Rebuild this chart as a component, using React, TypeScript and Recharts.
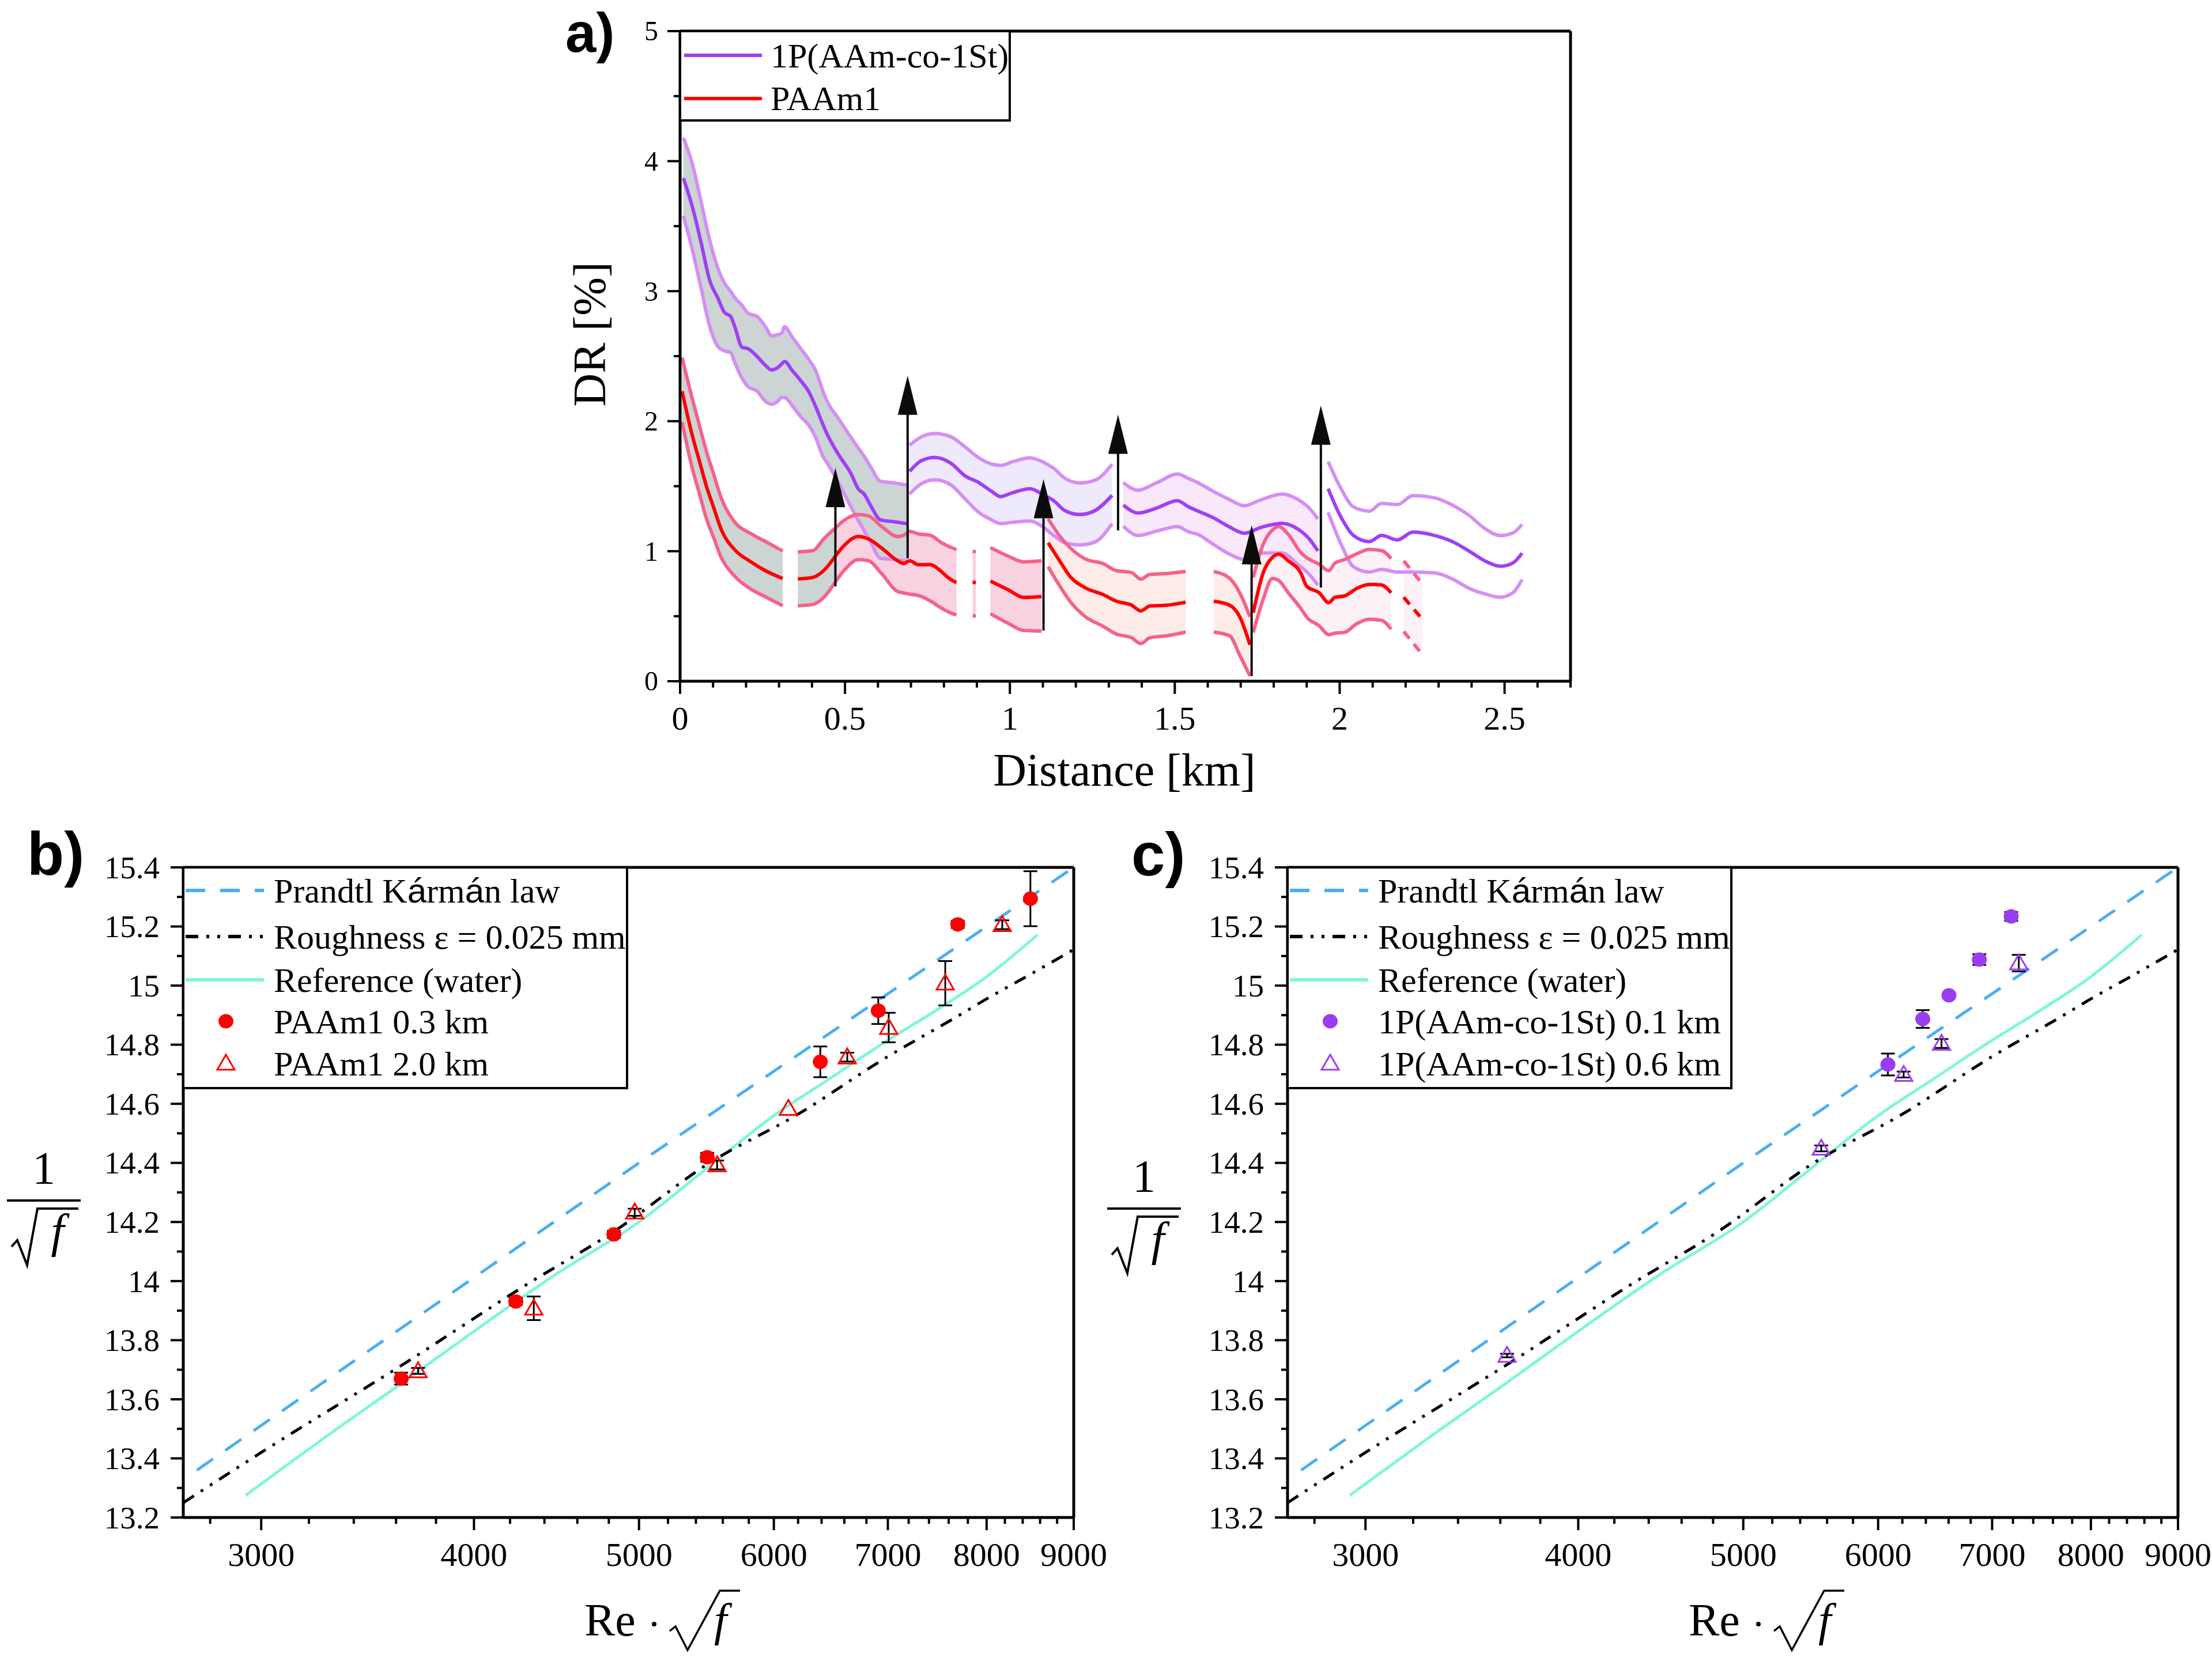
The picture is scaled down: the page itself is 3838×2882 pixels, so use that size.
import React from "react";
import {
  ComposedChart,
  Line,
  Area,
  Scatter,
  XAxis,
  YAxis,
  ReferenceLine,
  ReferenceDot,
  ErrorBar,
} from "recharts";

const SERIF = "'Liberation Serif', 'Times New Roman', serif";
const SANS = "'Liberation Sans', Arial, sans-serif";

// ---------- a) DR along the loop, rows are [km, lower, mean, upper] ----------
const copoSeg1 = [
  [0.01, 3.58, 3.87, 4.18], [0.037, 3.32, 3.65, 3.98], [0.064, 3.02, 3.37, 3.685],
  [0.09, 2.726, 3.08, 3.39], [0.114, 2.577, 2.95, 3.18], [0.135, 2.54, 2.835, 3.06],
  [0.153, 2.528, 2.806, 3.0], [0.166, 2.45, 2.726, 2.95], [0.188, 2.33, 2.568, 2.89],
  [0.206, 2.265, 2.558, 2.83], [0.233, 2.232, 2.499, 2.806], [0.259, 2.152, 2.429, 2.726],
  [0.277, 2.13, 2.394, 2.657], [0.295, 2.15, 2.41, 2.665], [0.308, 2.182, 2.44, 2.677],
  [0.317, 2.182, 2.459, 2.726], [0.34, 2.12, 2.39, 2.647], [0.366, 2.034, 2.311, 2.558],
  [0.39, 1.97, 2.228, 2.475], [0.411, 1.875, 2.113, 2.39], [0.433, 1.73, 1.975, 2.232],
  [0.446, 1.678, 1.9, 2.152], [0.482, 1.519, 1.737, 2.014], [0.518, 1.341, 1.598, 1.875],
  [0.54, 1.24, 1.48, 1.795], [0.558, 1.16, 1.44, 1.73], [0.58, 1.06, 1.341, 1.64],
  [0.607, 0.945, 1.242, 1.539], [0.651, 0.937, 1.226, 1.525], [0.687, 0.925, 1.212, 1.509],
];
const copoSeg2 = [
  [0.696, 1.44, 1.614, 1.816], [0.732, 1.52, 1.697, 1.88], [0.772, 1.549, 1.721, 1.905],
  [0.821, 1.51, 1.677, 1.88], [0.865, 1.4, 1.578, 1.8], [0.905, 1.3, 1.529, 1.72],
  [0.945, 1.24, 1.46, 1.67], [0.972, 1.212, 1.42, 1.66], [1.008, 1.222, 1.45, 1.688],
  [1.061, 1.232, 1.48, 1.718], [1.097, 1.192, 1.44, 1.69], [1.132, 1.123, 1.39, 1.639],
  [1.168, 1.063, 1.311, 1.559], [1.212, 1.048, 1.282, 1.525], [1.257, 1.07, 1.311, 1.545],
  [1.31, 1.212, 1.43, 1.668],
];
const copoSeg3 = [
  [1.344, 1.192, 1.355, 1.528], [1.389, 1.121, 1.294, 1.469], [1.446, 1.155, 1.333, 1.528],
  [1.508, 1.189, 1.389, 1.593], [1.541, 1.15, 1.342, 1.56], [1.569, 1.13, 1.31, 1.528],
  [1.617, 1.053, 1.257, 1.46], [1.664, 0.98, 1.189, 1.4], [1.711, 0.935, 1.138, 1.35],
  [1.759, 0.986, 1.181, 1.393], [1.825, 0.986, 1.215, 1.44], [1.872, 0.901, 1.172, 1.4],
  [1.91, 0.816, 1.087, 1.325], [1.934, 0.739, 1.002, 1.248],
];
const copoSeg4 = [
  [1.965, 1.299, 1.481, 1.689], [2.005, 1.05, 1.257, 1.477], [2.042, 0.88, 1.121, 1.34],
  [2.09, 0.84, 1.074, 1.308], [2.127, 0.86, 1.121, 1.367], [2.175, 0.84, 1.087, 1.359],
  [2.222, 0.84, 1.147, 1.427], [2.288, 0.833, 1.121, 1.41], [2.345, 0.782, 1.07, 1.35],
  [2.393, 0.714, 1.0, 1.274], [2.44, 0.672, 0.926, 1.175], [2.487, 0.646, 0.884, 1.12],
  [2.525, 0.68, 0.909, 1.14], [2.553, 0.782, 0.985, 1.206],
];
const paamSeg1 = [
  [0.006, 1.994, 2.23, 2.489], [0.037, 1.638, 1.89, 2.172], [0.059, 1.44, 1.69, 1.964],
  [0.081, 1.242, 1.49, 1.757], [0.1, 1.117, 1.35, 1.606], [0.126, 0.945, 1.16, 1.401],
  [0.166, 0.807, 1.01, 1.223], [0.215, 0.708, 0.918, 1.134], [0.259, 0.649, 0.85, 1.074],
  [0.311, 0.58, 0.79, 1.001],
];
const paamSeg2 = [
  [0.357, 0.58, 0.787, 0.995], [0.402, 0.59, 0.798, 1.004], [0.4375, 0.65, 0.856, 1.1],
  [0.471, 0.765, 0.963, 1.178],
];
const paamSeg3 = [
  [0.471, 0.765, 0.963, 1.178], [0.5, 0.86, 1.05, 1.242], [0.54, 0.935, 1.113, 1.282],
  [0.571, 0.927, 1.095, 1.272], [0.611, 0.828, 1.024, 1.19], [0.66, 0.689, 0.926, 1.113],
  [0.678, 0.679, 0.905, 1.123], [0.696, 0.67, 0.926, 1.153], [0.723, 0.659, 0.896, 1.133],
  [0.758, 0.619, 0.896, 1.123], [0.794, 0.56, 0.84, 1.063], [0.812, 0.535, 0.798, 1.04],
  [0.838, 0.51, 0.758, 1.013],
];
const paamBit = [[0.887, 0.505, 0.76, 1.0], [0.897, 0.5, 0.76, 0.995]];
const paamSeg4 = [
  [0.941, 0.519, 0.77, 1.028], [0.995, 0.445, 0.703, 0.962], [1.042, 0.39, 0.644, 0.918],
  [1.096, 0.386, 0.652, 0.926],
];
const paamSeg5 = [
  [1.116, 0.881, 1.065, 1.25], [1.151, 0.733, 0.926, 1.117], [1.182, 0.616, 0.807, 1.028],
  [1.229, 0.496, 0.718, 0.94], [1.283, 0.422, 0.666, 0.904], [1.322, 0.363, 0.616, 0.851],
  [1.369, 0.334, 0.585, 0.836], [1.397, 0.289, 0.541, 0.785], [1.424, 0.334, 0.578, 0.821],
  [1.478, 0.35, 0.585, 0.829], [1.533, 0.378, 0.607, 0.844],
];
const paamSeg6 = [
  [1.618, 0.378, 0.615, 0.844], [1.666, 0.35, 0.585, 0.792], [1.697, 0.2, 0.496, 0.68],
  [1.728, 0.04, 0.28, 0.496],
];
const paamSeg7 = [
  [1.738, 0.375, 0.527, 0.799], [1.768, 0.629, 0.833, 1.053], [1.796, 0.79, 0.952, 1.163],
  [1.815, 0.775, 0.977, 1.189], [1.844, 0.68, 0.926, 1.13], [1.882, 0.56, 0.833, 0.99],
  [1.9, 0.493, 0.731, 0.95], [1.938, 0.426, 0.68, 0.9], [1.967, 0.358, 0.604, 0.85],
  [1.986, 0.37, 0.646, 0.909], [2.014, 0.375, 0.655, 0.935], [2.052, 0.443, 0.714, 0.98],
  [2.09, 0.477, 0.745, 1.014], [2.127, 0.468, 0.74, 1.005], [2.156, 0.4, 0.68, 0.943],
];
const paamTail = [[2.194, 0.383, 0.646, 0.926], [2.251, 0.205, 0.476, 0.748]];

// polymer injections: [km, foot, tip]
const injections = [
  [0.471, 0.73, 1.64],
  [0.69, 0.945, 2.35],
  [1.102, 0.39, 1.555],
  [1.328, 1.16, 2.05],
  [1.733, 0.04, 1.2],
  [1.943, 0.72, 2.12],
];

const distMajor = [0, 0.5, 1, 1.5, 2, 2.5];
const distMinor = [0.1, 0.2, 0.3, 0.4, 0.6, 0.7, 0.8, 0.9, 1.1, 1.2, 1.3, 1.4, 1.6, 1.7, 1.8, 1.9, 2.1, 2.2, 2.3, 2.4, 2.6, 2.7];
const drMajor = [0, 1, 2, 3, 4, 5];
const drMinor = [0.5, 1.5, 2.5, 3.5, 4.5];

// ---------- b), c) friction factor ----------
const prandtl = [[2750, 13.36], [5000, 14.4], [9000, 15.4]];
const roughness = [
  [2700, 13.25], [3000, 13.42], [3650, 13.725], [4300, 13.99], [4840, 14.17], [5500, 14.4],
  [6200, 14.565], [7000, 14.76], [7660, 14.89], [8000, 14.955], [8500, 15.04], [9000, 15.122],
];
const water = [
  [2937, 13.275], [3250, 13.46], [3660, 13.67], [4000, 13.83], [4460, 14.02], [5000, 14.2],
  [5450, 14.37], [6000, 14.56], [6490, 14.69], [7000, 14.815], [7490, 14.92], [8000, 15.03],
  [8570, 15.172],
];
// [Re*sqrt(f), 1/sqrt(f), error]
const paam03 = [
  [3625, 13.67, 0.02], [4233, 13.931, 0.012], [4833, 14.158, 0.012], [5483, 14.419, 0.015],
  [6389, 14.742, 0.052], [6910, 14.915, 0.045], [7694, 15.207, 0.012], [8488, 15.294, 0.093],
];
const paam20 = [
  [3709, 13.696, 0.01], [4337, 13.908, 0.04], [4971, 14.233, 0.012], [5557, 14.393, 0.015],
  [6119, 14.584, 0], [6626, 14.758, 0.015], [7008, 14.858, 0.05], [7565, 15.008, 0.075],
  [8171, 15.206, 0.015],
];
const copo01 = [
  [6080, 14.733, 0.037], [6373, 14.887, 0.03], [6603, 14.967, 0], [6880, 15.088, 0.018],
  [7183, 15.234, 0.015],
];
const copo06 = [
  [3633, 13.748, 0.006], [5556, 14.449, 0.01], [6211, 14.699, 0.01], [6537, 14.804, 0.015],
  [7257, 15.076, 0.028],
];

const reMajor = [3000, 4000, 5000, 6000, 7000, 8000, 9000];
const reMinor = [2800, 3200, 3400, 3600, 3800, 4200, 4400, 4600, 4800, 5200, 5400, 5600, 5800, 6200, 6400, 6600, 6800, 7200, 7400, 7600, 7800, 8200, 8400, 8600, 8800];
const fMajor = [13.2, 13.4, 13.6, 13.8, 14, 14.2, 14.4, 14.6, 14.8, 15, 15.2, 15.4];
const fMinor = [13.3, 13.5, 13.7, 13.9, 14.1, 14.3, 14.5, 14.7, 14.9, 15.1, 15.3];

// ---------- colours ----------
const P_MAIN = "#a03ff5";
const P_EDGE = "#d48ff4";
const R_MAIN = "#ff0000";
const R_EDGE = "#f5628a";
const GRAY = "#ccd4d4";
const PINK = "#f8d2e1";
const PEACH = "#fdece7";
const LAV = "#eee9fb";
const PLAV = "#f9e7fa";
const FAINT = "#fdf1f8";
const BLUE = "#4aaef2";
const CYAN = "#7ff5dc";
const PURPLE = "#9a3df0";

const toRows = (t: number[][]) => t.map(([x, lo, mid, hi]) => ({ x, lo, mid, hi }));
const toPts = (t: number[][]) => t.map(([x, y, err]) => ({ x, y, err }));

const bands = [
  { rows: toRows(paamSeg1), fill: GRAY, edge: R_EDGE, main: R_MAIN },
  { rows: toRows(paamSeg2), fill: GRAY, edge: R_EDGE, main: R_MAIN },
  { rows: toRows(paamSeg3), fill: PINK, edge: R_EDGE, main: R_MAIN },
  { rows: toRows(paamBit), fill: PINK, edge: R_EDGE, main: R_MAIN },
  { rows: toRows(paamSeg4), fill: PINK, edge: R_EDGE, main: R_MAIN },
  { rows: toRows(paamSeg5), fill: PEACH, edge: R_EDGE, main: R_MAIN },
  { rows: toRows(paamSeg6), fill: PEACH, edge: R_EDGE, main: R_MAIN },
  { rows: toRows(paamSeg7), fill: FAINT, edge: R_EDGE, main: R_MAIN },
  { rows: toRows(paamTail), fill: FAINT, edge: R_EDGE, main: R_MAIN, dash: "16 12" },
  { rows: toRows(copoSeg1), fill: GRAY, edge: P_EDGE, main: P_MAIN },
  { rows: toRows(copoSeg2), fill: LAV, edge: P_EDGE, main: P_MAIN },
  { rows: toRows(copoSeg3), fill: PLAV, edge: P_EDGE, main: P_MAIN },
  { rows: toRows(copoSeg4), fill: "", edge: P_EDGE, main: P_MAIN },
];

const AXIS = { stroke: "#000", strokeWidth: 5 };
const near = (v: number, list: number[]) => list.some((m) => Math.abs(m - v) < 1e-6);

const bottomTicks = (majors: number[], fontSize: number) => (p: any) => {
  const v = p.payload.value;
  const big = near(v, majors);
  return (
    <g>
      <line x1={p.x} y1={p.y} x2={p.x} y2={p.y + (big ? 22 : 11)} stroke="#000" strokeWidth={4} />
      {big && (
        <text x={p.x} y={p.y + 84} textAnchor="middle" fontFamily={SERIF} fontSize={fontSize} fill="#000">
          {String(v)}
        </text>
      )}
    </g>
  );
};

const leftTicks = (majors: number[], fontSize: number, gap: number) => (p: any) => {
  const v = p.payload.value;
  const big = near(v, majors);
  return (
    <g>
      <line x1={p.x} y1={p.y} x2={p.x - (big ? 22 : 11)} y2={p.y} stroke="#000" strokeWidth={4} />
      {big && (
        <text x={p.x - gap} y={p.y} dy="0.34em" textAnchor="end" fontFamily={SERIF} fontSize={fontSize} fill="#000">
          {String(v)}
        </text>
      )}
    </g>
  );
};

const arrowHead = (p: any) => (
  <polygon
    points={`${p.cx},${p.cy} ${p.cx - 17},${p.cy + 68} ${p.cx + 17},${p.cy + 68}`}
    fill="#0b0b0b"
  />
);

function DragReduction() {
  return (
    <ComposedChart width={1900} height={1400} margin={{ top: 54, right: 75, bottom: 158, left: 180 }}>
      <XAxis
        dataKey="x"
        type="number"
        domain={[0, 2.7]}
        allowDataOverflow
        ticks={[...distMajor, ...distMinor]}
        interval={0}
        tickSize={0}
        tickMargin={0}
        tickLine={false}
        axisLine={AXIS}
        tick={bottomTicks(distMajor, 58)}
        height={60}
      />
      <YAxis
        type="number"
        domain={[0, 5]}
        allowDataOverflow
        ticks={[...drMajor, ...drMinor]}
        interval={0}
        tickSize={0}
        tickMargin={0}
        tickLine={false}
        axisLine={AXIS}
        tick={leftTicks(drMajor, 48, 38)}
        width={100}
      />
      <ReferenceLine y={5} stroke="#000" strokeWidth={5} ifOverflow="visible" />
      <ReferenceLine x={2.7} stroke="#000" strokeWidth={5} ifOverflow="visible" />
      {bands.map((b, i) =>
        b.fill ? (
          <Area
            key={`f${i}`}
            data={b.rows}
            dataKey={(d: any) => [d.lo, d.hi]}
            type="monotone"
            stroke="none"
            fill={b.fill}
            fillOpacity={1}
            className="mult"
            dot={false}
            activeDot={false}
            isAnimationActive={false}
          />
        ) : null
      )}
      {bands.map((b, i) => (
        <Line key={`lo${i}`} data={b.rows} dataKey="lo" type="monotone" stroke={b.edge} strokeWidth={6}
          strokeDasharray={b.dash} dot={false} activeDot={false} isAnimationActive={false} />
      ))}
      {bands.map((b, i) => (
        <Line key={`hi${i}`} data={b.rows} dataKey="hi" type="monotone" stroke={b.edge} strokeWidth={6}
          strokeDasharray={b.dash} dot={false} activeDot={false} isAnimationActive={false} />
      ))}
      {bands.map((b, i) => (
        <Line key={`m${i}`} data={b.rows} dataKey="mid" type="monotone" stroke={b.main} strokeWidth={6}
          strokeDasharray={b.dash} dot={false} activeDot={false} isAnimationActive={false} />
      ))}
      {injections.map(([x, foot, tip], i) => (
        <ReferenceLine
          key={`s${i}`}
          segment={[{ x, y: foot }, { x, y: tip - 0.2 }]}
          stroke="#0b0b0b"
          strokeWidth={4}
          ifOverflow="visible"
        />
      ))}
      {injections.map(([x, , tip], i) => (
        <ReferenceDot key={`h${i}`} x={x} y={tip} r={1} shape={arrowHead} ifOverflow="visible" />
      ))}
    </ComposedChart>
  );
}

const dotShape = (color: string) => (p: any) => (
  <ellipse cx={p.cx} cy={p.cy} rx={13} ry={12.5} fill={color} />
);
const triShape = (color: string) => (p: any) => (
  <polygon
    points={`${p.cx},${p.cy - 15} ${p.cx - 15},${p.cy + 11} ${p.cx + 15},${p.cy + 11}`}
    fill="none"
    stroke={color}
    strokeWidth={3}
  />
);
const noShape = () => <g />;

function Friction({ solid, hollow, color }: { solid: number[][]; hollow: number[][]; color: string }) {
  const s = toPts(solid);
  const h = toPts(hollow);
  return (
    <ComposedChart width={1850} height={1400} margin={{ top: 105, right: 87, bottom: 107, left: 118 }}>
      <XAxis
        dataKey="x"
        type="number"
        scale="log"
        domain={[2700, 9000]}
        allowDataOverflow
        ticks={[...reMajor, ...reMinor]}
        interval={0}
        tickSize={0}
        tickMargin={0}
        tickLine={false}
        axisLine={AXIS}
        tick={bottomTicks(reMajor, 58)}
        height={60}
      />
      <YAxis
        dataKey="y"
        type="number"
        domain={[13.2, 15.4]}
        allowDataOverflow
        ticks={[...fMajor, ...fMinor]}
        interval={0}
        tickSize={0}
        tickMargin={0}
        tickLine={false}
        axisLine={AXIS}
        tick={leftTicks(fMajor, 55, 41)}
        width={100}
      />
      <ReferenceLine y={15.4} stroke="#000" strokeWidth={5} ifOverflow="visible" />
      <ReferenceLine x={9000} stroke="#000" strokeWidth={5} ifOverflow="visible" />
      <Line data={toPts(water)} dataKey="y" type="monotone" stroke={CYAN} strokeWidth={5}
        dot={false} activeDot={false} isAnimationActive={false} />
      <Line data={toPts(roughness)} dataKey="y" type="monotone" stroke="#000" strokeWidth={5}
        strokeDasharray="22 14 5 14 5 14" dot={false} activeDot={false} isAnimationActive={false} />
      <Line data={toPts(prandtl)} dataKey="y" type="linear" stroke={BLUE} strokeWidth={5}
        strokeDasharray="34 26" dot={false} activeDot={false} isAnimationActive={false} />
      <Scatter data={s} dataKey="y" shape={dotShape(color)} isAnimationActive={false} />
      <Scatter data={h} dataKey="y" shape={triShape(color)} isAnimationActive={false} />
      <Scatter data={s.filter((d) => d.err > 0)} dataKey="y" shape={noShape} isAnimationActive={false}>
        <ErrorBar dataKey="err" direction="y" width={12} stroke="#000" strokeWidth={3} />
      </Scatter>
      <Scatter data={h.filter((d) => d.err > 0)} dataKey="y" shape={noShape} isAnimationActive={false}>
        <ErrorBar dataKey="err" direction="y" width={12} stroke="#000" strokeWidth={3} />
      </Scatter>
    </ComposedChart>
  );
}

const ROWS = [1545, 1625, 1700, 1772, 1845];

function FrictionLegend({ left, color, solidLabel, hollowLabel }: { left: number; color: string; solidLabel: string; hollowLabel: string }) {
  const tx = left + 157;
  const mx = left + 74;
  return (
    <g fontFamily={SERIF} fontSize={60} fill="#000">
      <rect x={left} y={1505} width={770} height={383} fill="#fff" stroke="#000" strokeWidth={4} />
      <line x1={left + 4} x2={left + 140} y1={ROWS[0]} y2={ROWS[0]} stroke={BLUE} strokeWidth={6} strokeDasharray="34 26" />
      <text x={tx} y={ROWS[0] + 21}>
        Prandtl K<tspan fontFamily={SANS}>á</tspan>rm<tspan fontFamily={SANS}>á</tspan>n law
      </text>
      <line x1={left + 4} x2={left + 140} y1={ROWS[1]} y2={ROWS[1]} stroke="#000" strokeWidth={6} strokeDasharray="22 14 5 14 5 14" />
      <text x={tx} y={ROWS[1] + 21}>Roughness ε = 0.025 mm</text>
      <line x1={left + 4} x2={left + 140} y1={ROWS[2]} y2={ROWS[2]} stroke={CYAN} strokeWidth={6} />
      <text x={tx} y={ROWS[2] + 21}>Reference (water)</text>
      <ellipse cx={mx} cy={ROWS[3]} rx={13} ry={12.5} fill={color} />
      <text x={tx} y={ROWS[3] + 21}>{solidLabel}</text>
      <polygon
        points={`${mx},${ROWS[4] - 15} ${mx - 15},${ROWS[4] + 11} ${mx + 15},${ROWS[4] + 11}`}
        fill="none"
        stroke={color}
        strokeWidth={3}
      />
      <text x={tx} y={ROWS[4] + 21}>{hollowLabel}</text>
    </g>
  );
}

function InvSqrtF() {
  return (
    <g>
      <text x={76} y={2054} textAnchor="middle" fontSize={80}>1</text>
      <line x1={12} y1={2083} x2={140} y2={2083} stroke="#000" strokeWidth={4} />
      <polyline points="20,2163 30,2152 47,2195 65,2097 136,2097" fill="none" stroke="#000" strokeWidth={4} />
      <text x={100} y={2163} textAnchor="middle" fontStyle="italic" fontSize={82}>f</text>
    </g>
  );
}

function ReSqrtF() {
  return (
    <g>
      <text x={1014} y={2838} fontSize={80}>Re</text>
      <circle cx={1135} cy={2818} r={4} fill="#000" />
      <polyline points="1162,2830 1172,2822 1193,2863 1249,2760 1284,2760" fill="none" stroke="#000" strokeWidth={3.5} />
      <text x={1250} y={2838} textAnchor="middle" fontStyle="italic" fontSize={80}>f</text>
    </g>
  );
}

function Overlay() {
  return (
    <svg
      width={3838}
      height={2882}
      style={{ position: "absolute", left: 0, top: 0, pointerEvents: "none" }}
      fontFamily={SERIF}
      fill="#000"
    >
      {/* panel a */}
      <text x={981} y={90} fontFamily={SANS} fontWeight="bold" fontSize={96}>a)</text>
      <text transform="translate(1050 580) rotate(-90)" textAnchor="middle" fontSize={80}>DR [%]</text>
      <text x={1951} y={1363} textAnchor="middle" fontSize={80}>Distance [km]</text>
      <rect x={1180} y={54} width={572} height={155} fill="#fff" stroke="#000" strokeWidth={4} />
      <line x1={1187} x2={1322} y1={96} y2={96} stroke={P_MAIN} strokeWidth={6} />
      <text x={1337} y={117} fontSize={60}>1P(AAm-co-1St)</text>
      <line x1={1187} x2={1322} y1={171} y2={171} stroke={R_MAIN} strokeWidth={6} />
      <text x={1337} y={191} fontSize={60}>PAAm1</text>

      {/* panel b */}
      <text x={47} y={1518} fontFamily={SANS} fontWeight="bold" fontSize={105}>b)</text>
      <InvSqrtF />
      <ReSqrtF />
      <FrictionLegend left={318} color={R_MAIN} solidLabel="PAAm1 0.3 km" hollowLabel="PAAm1 2.0 km" />

      {/* panel c */}
      <text x={1963} y={1519} fontFamily={SANS} fontWeight="bold" fontSize={105}>c)</text>
      <g transform="translate(1909 14)">
        <InvSqrtF />
      </g>
      <g transform="translate(1916 0)">
        <ReSqrtF />
      </g>
      <FrictionLegend left={2234} color={PURPLE} solidLabel="1P(AAm-co-1St) 0.1 km" hollowLabel="1P(AAm-co-1St) 0.6 km" />
    </svg>
  );
}

export default function App() {
  return (
    <div style={{ position: "absolute", left: 0, top: 0, width: 3838, height: 2882, background: "#fff", overflow: "hidden" }}>
      <style>{".mult path{mix-blend-mode:multiply}"}</style>
      <div style={{ position: "absolute", left: 900, top: 0 }}>
        <DragReduction />
      </div>
      <div style={{ position: "absolute", left: 100, top: 1400 }}>
        <Friction solid={paam03} hollow={paam20} color={R_MAIN} />
      </div>
      <div style={{ position: "absolute", left: 2016, top: 1400 }}>
        <Friction solid={copo01} hollow={copo06} color={PURPLE} />
      </div>
      <Overlay />
    </div>
  );
}
